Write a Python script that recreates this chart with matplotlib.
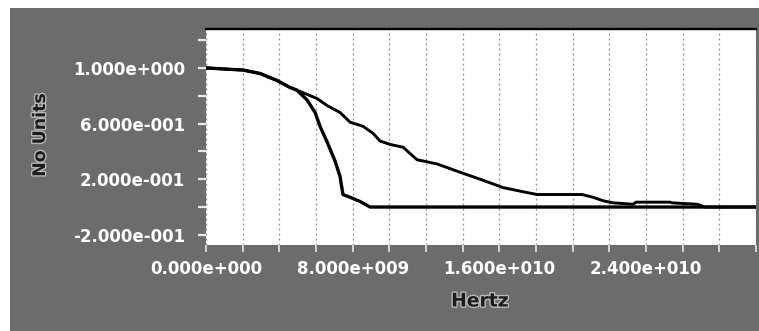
import matplotlib
matplotlib.use("Agg")
import matplotlib.pyplot as plt
import matplotlib.patheffects as pe
from matplotlib.patches import Rectangle

# Frequency response traces (frequency in GHz, normalised response)
freq_a_ghz = [0, 1.31, 2.02, 2.95, 3.87, 4.58, 4.96, 5.51, 5.95, 6.22, 6.60,
              7.04, 7.31, 7.47, 7.86, 8.40, 8.95, 30]
resp_a = [1.0, 0.99, 0.985, 0.96, 0.91, 0.86, 0.84, 0.77, 0.68, 0.58, 0.47,
          0.33, 0.22, 0.09, 0.07, 0.04, 0.0, 0.0]

freq_b_ghz = [0, 1.31, 2.02, 2.95, 3.87, 4.58, 4.96, 5.51, 6.06, 6.60, 7.31,
              7.86, 8.57, 9.11, 9.49, 10.04, 10.75, 11.51, 12.60, 13.86, 14.95,
              16.20, 17.29, 18.06, 20.51, 21.11, 21.66, 22.20, 23.30, 23.46,
              25.31, 25.42, 26.79, 27.22, 30]
resp_b = [1.0, 0.99, 0.985, 0.96, 0.91, 0.86, 0.84, 0.81, 0.78, 0.73, 0.68,
          0.61, 0.58, 0.53, 0.475, 0.45, 0.43, 0.34, 0.31, 0.25, 0.20,
          0.14, 0.11, 0.09, 0.09, 0.07, 0.045, 0.03, 0.02, 0.035,
          0.035, 0.03, 0.02, 0.0, 0.0]

y_major = [1.0, 0.6, 0.2, -0.2]
y_major_labels = ["1.000e+000", "6.000e-001", "2.000e-001", "-2.000e-001"]
y_minor = [1.2, 0.8, 0.4, 0.0]

x_major = [0, 8e9, 1.6e10, 2.4e10]
x_major_labels = ["0.000e+000", "8.000e+009", "1.600e+010", "2.400e+010"]
x_grid_step = 2e9
x_max = 3e10

W, H = 759, 331
fig = plt.figure(figsize=(W / 100, H / 100), dpi=100, facecolor="white")

# grey panel behind the plot
fig.patches.append(Rectangle((10 / W, 0), 1 - 10 / W, 1 - 8 / H,
                             transform=fig.transFigure, facecolor="#6c6c6c",
                             edgecolor="none", zorder=-10))

ax = fig.add_axes([206 / W, 1 - 245 / H, 550 / W, 216 / H])
ax.set_zorder(1)
ax.set_facecolor("white")

fa = [f * 1e9 for f in freq_a_ghz]
fb = [f * 1e9 for f in freq_b_ghz]
ax.plot(fb, resp_b, color="black", lw=2.1, solid_joinstyle="round", zorder=3)
ax.plot(fa, resp_a, color="black", lw=2.4, solid_joinstyle="round", zorder=3)

ax.set_xlim(0, x_max)
ax.set_ylim(-0.273, 1.28)

# vertical dotted grid every 2 GHz
grid_x = [i * x_grid_step for i in range(int(x_max / x_grid_step) + 1)]
for gx in grid_x:
    ax.axvline(gx, color="#8c8c8c", lw=0.9, ls=(0, (1.5, 2.5)), zorder=1)

ax.set_xticks(grid_x)
ax.set_xticklabels([x_major_labels[x_major.index(g)] if g in x_major else ""
                    for g in grid_x])
ax.set_yticks(y_major)
ax.set_yticklabels(y_major_labels)
ax.set_yticks(y_minor, minor=True)

for lab in ax.get_xticklabels() + ax.get_yticklabels():
    lab.set_fontweight("bold")
    lab.set_fontsize(12)
    lab.set_color("white")

ax.tick_params(axis="y", which="both", direction="out", length=6, width=1.6,
               color="#e8e8e8", pad=9)
ax.tick_params(axis="x", which="both", direction="out", length=5, width=1.2,
               color="#e8e8e8", pad=6)

for side in ("left", "right", "bottom"):
    ax.spines[side].set_visible(False)
ax.spines["top"].set_color("black")
ax.spines["top"].set_linewidth(1.7)

outline = [pe.withStroke(linewidth=2, foreground="#b8b8b8")]
fig.text(40 / W, 1 - 135 / H, "No Units", rotation=90, ha="center",
         va="center", fontsize=12.5, fontweight="bold", color="#1c1c1c",
         path_effects=outline)
fig.text(480 / W, 1 - 301 / H, "Hertz", ha="center", va="center",
         fontsize=13.5, fontweight="bold", color="#1c1c1c",
         path_effects=outline)

fig.savefig("out.png", dpi=100, facecolor=fig.get_facecolor())
